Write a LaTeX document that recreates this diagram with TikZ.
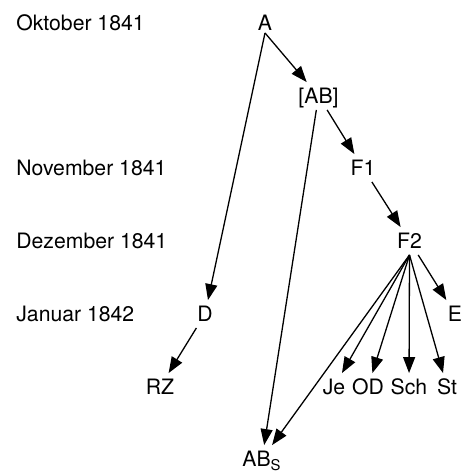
\documentclass[tikz,border=0pt]{standalone}
\usepackage{fontspec}
\setmainfont{TeX Gyre Heros}
\usetikzlibrary{arrows.meta}
\tikzstyle{month}   = [anchor=west, inner sep=0pt, text height=7.55pt, text depth=0pt]
\tikzstyle{ms}      = [inner sep=3pt, text height=7.55pt, text depth=0pt]
\tikzstyle{lineage} = [line width=0.65pt, -{Triangle[length=8pt, width=6pt]}, black]

\begin{document}
\begin{tikzpicture}[x=0.5pt, y=0.5pt, font=\fontsize{10.6}{12.7}\selectfont]

	\useasboundingbox (0,0) rectangle (461,-471);

	% Months
	\node (okt) [month] at (16,-23)  {Oktober 1841};
	\node (nov) [month] at (16,-168) {November 1841};
	\node (dez) [month] at (16,-241) {Dezember 1841};
	\node (jan) [month] at (16,-314) {Januar 1842};

	% Manuscripts
	\node (A)   [ms, inner ysep=1pt] at (265,-23) {A};
	\node (AB)  [ms] at (318.5,-96) {[AB]};
	\node (F1)  [ms] at (363,-168)  {F1};
	\node (F2)  [ms] at (409.5,-241) {F2};
	\node (D)   [ms] at (205,-314)  {D};
	\node (E)   [ms] at (455,-314)  {E};
	\node (RZ)  [ms] at (160,-387)  {RZ};
	\node (Je)  [ms] at (334,-387)  {Je};
	\node (OD)  [ms] at (368,-387)  {OD};
	\node (Sch) [ms] at (409,-387)  {Sch};
	\node (St)  [ms] at (447,-387)  {St};
	\node (ABs) [ms] at (262,-459)  {AB\textsubscript{S}};

	% Arrows
	\draw[lineage] (A.south) -- (AB);
	\draw[lineage] (A.south) -- (D);
	\draw[lineage] (AB) -- (F1);
	\draw[lineage] (AB) -- (ABs);
	\draw[lineage] (F1) -- (F2);
	\draw[lineage] (D) -- (RZ);
	\draw[lineage] (F2) -- (E);

	\draw[lineage] (F2.south) -- (ABs);
	\draw[lineage] (F2.south) -- (Je);
	\draw[lineage] (F2.south) -- (OD);
	\draw[lineage] (F2.south) -- (Sch);
	\draw[lineage] (F2.south) -- (St);

\end{tikzpicture}
\end{document}
